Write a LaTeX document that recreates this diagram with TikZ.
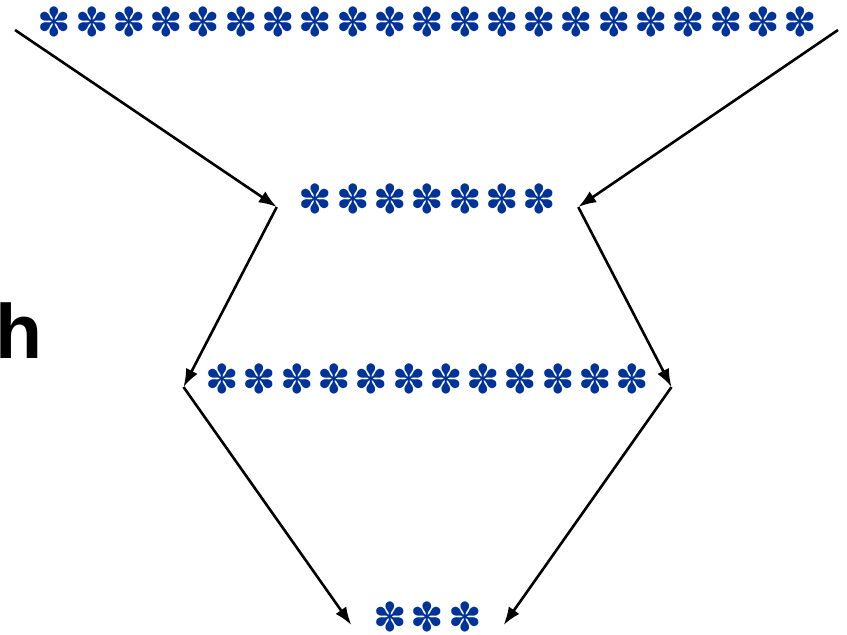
\documentclass[tikz,border=0pt]{standalone}
\usepackage{fontspec}
\setmainfont{DejaVu Sans}
\newfontfamily\hfont{Liberation Sans}
\usetikzlibrary{arrows.meta}
\definecolor{starblue}{RGB}{0,51,153}
\newcommand{\st}{\makebox[37.3pt]{✽}}

\begin{document}
\begin{tikzpicture}[x=1pt, y=-1pt,
rownode/.style={text=starblue, font=\fontsize{40}{44}\selectfont, inner xsep=20pt, inner ysep=0pt},
arr/.style={-{Latex[length=18pt,width=13pt]}, line width=2.6pt},
]
\useasboundingbox (0,0) rectangle (847,635);

\node[rownode] at(427.5,22) (row1) {\st\st\st\st\st\st\st\st\st\st\st\st\st\st\st\st\st\st\st\st\st};
\node[rownode] at(427.5,199) (row2) {\st\st\st\st\st\st\st};
\node[rownode] at(427.5,379) (row3) {\st\st\st\st\st\st\st\st\st\st\st\st};
\node[rownode] at(427.5,617) (row4) {\st\st\st};

\node[anchor=base west, inner sep=0pt, font=\hfont\bfseries\fontsize{77}{80}\selectfont] at(-5,358) (hlabel) {h};

\coordinate (topl) at (15,30);
\coordinate (topr) at (838,30);
\coordinate (r2w) at ([yshift=-8pt]row2.west);
\coordinate (r2e) at ([yshift=-8pt]row2.east);
\coordinate (r3w) at ([yshift=-8pt]row3.west);
\coordinate (r3e) at ([yshift=-8pt]row3.east);
\coordinate (r4w) at ([yshift=-8pt]row4.west);
\coordinate (r4e) at ([yshift=-8pt]row4.east);

\draw[arr] (topl) -- (r2w);
\draw[arr] (topr) -- (r2e);
\draw[arr] (r2w) -- (r3w);
\draw[arr] (r2e) -- (r3e);
\draw[arr] (r3w) -- (r4w);
\draw[arr] (r3e) -- (r4e);

\end{tikzpicture}
\end{document}
